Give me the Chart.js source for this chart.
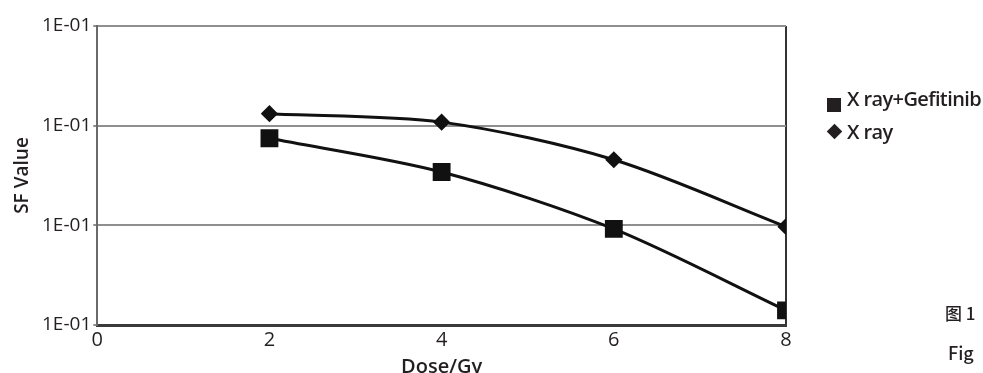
<!DOCTYPE html>
<html>
<head>
<meta charset="utf-8">
<script src="https://cdn.jsdelivr.net/npm/chart.js@4.4.1/dist/chart.umd.min.js"></script>
<style>
  body { margin: 0; background: #fff; overflow: hidden; }
  #wrap { position: relative; width: 983px; height: 373px; overflow: hidden; }
  .leg { position: absolute; left: 847px; font-family: "Open Sans", "Noto Sans", sans-serif; font-size: 20px; line-height: 20px; font-weight: 600; color: #231f20; white-space: nowrap; letter-spacing: -0.6px; }
  .mk { position: absolute; background: #231f20; }
  .cap { position: absolute; font-family: "Noto Sans CJK SC", "Noto Sans", sans-serif; font-size: 17px; line-height: 20px; font-weight: 500; color: #231f20; white-space: nowrap; }
</style>
</head>
<body>
<div id="wrap">
  <canvas id="chartSF" width="983" height="379"></canvas>
  <div class="mk" style="left:827px; top:98px; width:14px; height:14px;"></div>
  <div class="leg" style="top:89px;">X ray+Gefitinib</div>
  <div class="mk" style="left:829px; top:126px; width:11px; height:11px; transform: rotate(45deg);"></div>
  <div class="leg" style="top:122px;">X ray</div>
  <div class="cap" style="left:945px; top:303px;">图 1</div>
  <div class="cap" style="left:948px; top:342px; font-size:18px;">Fig</div>
</div>
<script>
// dose (Gy)
const doses = [2, 4, 6, 8];
// survival fraction values
const xrayGefitinib = [0.0747, 0.0343, 0.0092, 0.0014];
const xray = [0.132, 0.1085, 0.0455, 0.0097];
const seriesNames = ['X ray+Gefitinib', 'X ray'];
const yTickText = '1E-01';

document.addEventListener('DOMContentLoaded', function() {
    const ctx = document.getElementById('chartSF');

    new Chart(ctx, {
        type: 'line',
        data: {
            datasets: [{
                label: seriesNames[0],
                data: doses.map((d, i) => ({ x: d, y: xrayGefitinib[i] })),
                borderColor: '#111',
                backgroundColor: '#111',
                borderWidth: 3,
                pointStyle: 'rect',
                pointRadius: 10.5,
                tension: 0.3
            }, {
                label: seriesNames[1],
                data: doses.map((d, i) => ({ x: d, y: xray[i] })),
                borderColor: '#111',
                backgroundColor: '#111',
                borderWidth: 3,
                pointStyle: 'rectRot',
                pointRadius: 6.5,
                tension: 0.3
            }]
        },
        options: {
            responsive: false,
            animation: false,
            layout: {
                padding: { left: 13, right: 197, top: 26, bottom: 1 }
            },
            plugins: {
                legend: { display: false },
                tooltip: { enabled: false }
            },
            scales: {
                x: {
                    type: 'linear',
                    min: 0,
                    max: 8,
                    ticks: {
                        stepSize: 2,
                        color: '#231f20',
                        font: { family: 'Open Sans', size: 20, lineHeight: 1 },
                        padding: 5
                    },
                    grid: {
                        color: c => c.tick && c.tick.value === 8 ? '#333' : 'rgba(0,0,0,0)',
                        lineWidth: 2,
                        drawTicks: false
                    },
                    border: { color: '#3a3a3a', width: 3 },
                    title: {
                        display: true,
                        text: 'Dose/Gy',
                        color: '#231f20',
                        font: { family: 'Open Sans', size: 20, weight: '600', lineHeight: 1.05 },
                        padding: { top: 2, bottom: 0 }
                    }
                },
                y: {
                    type: 'logarithmic',
                    min: 0.001,
                    max: 1,
                    afterBuildTicks: axis => {
                        axis.ticks = [0.001, 0.01, 0.1, 1].map(v => ({ value: v }));
                    },
                    ticks: {
                        callback: () => yTickText,
                        color: '#231f20',
                        font: { family: 'Open Sans', size: 19 },
                        padding: 2
                    },
                    grid: {
                        color: '#8f8f8f',
                        lineWidth: 2,
                        tickLength: 4
                    },
                    border: { color: '#6a6a6a', width: 2 },
                    title: {
                        display: true,
                        text: 'SF Value',
                        color: '#231f20',
                        font: { family: 'Open Sans', size: 19, weight: '600', lineHeight: 1 },
                        padding: { top: 0, bottom: 8 }
                    }
                }
            }
        }
    });
});
</script>
</body>
</html>
